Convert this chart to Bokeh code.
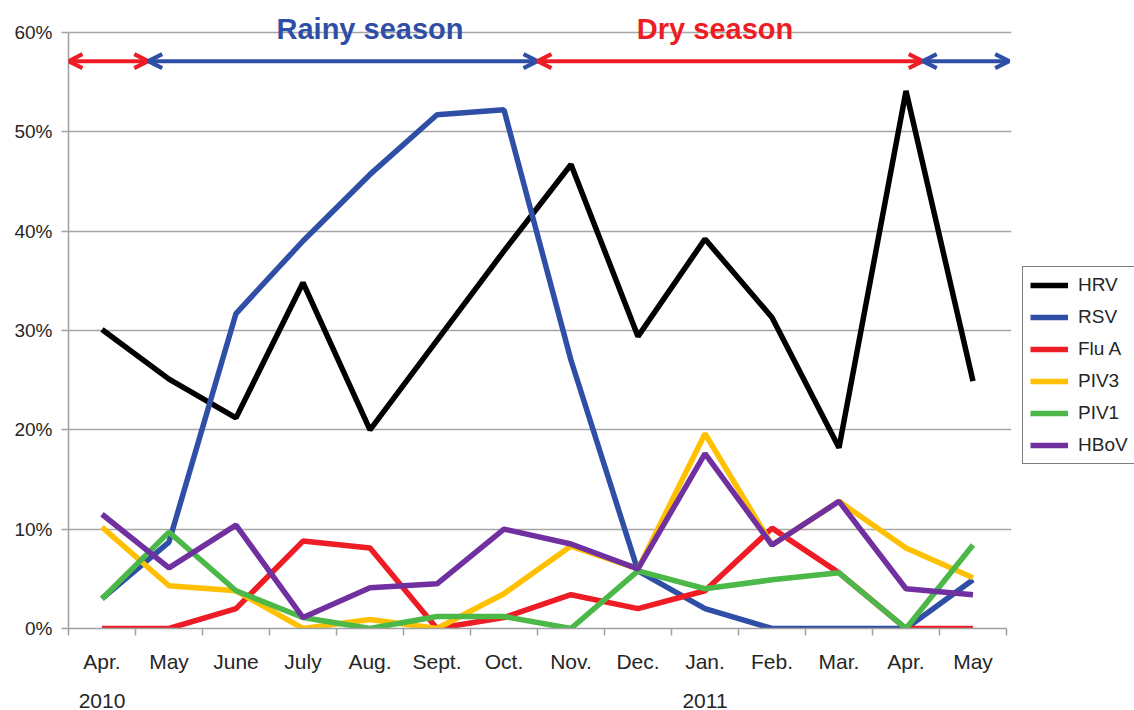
from bokeh.plotting import figure
from bokeh.models import (Range1d, FixedTicker, PrintfTickFormatter, Legend, LegendItem,
                          Label, Arrow, OpenHead, LinearAxis)
from bokeh.embed import file_html
from bokeh.resources import INLINE

# ---- data ----
months = ["Apr.", "May", "June", "July", "Aug.", "Sept.", "Oct.", "Nov.", "Dec.",
          "Jan.", "Feb.", "Mar.", "Apr.", "May"]
years = ["2010", "2011"]
year_month_index = [0, 9]

hrv  = [30.1, 25.1, 21.2, 34.8, 20.0, 29.0, 38.0, 46.7, 29.4, 39.2, 31.3, 18.2, 54.1, 24.9]
rsv  = [3.0, 8.7, 31.7, 39.0, 45.7, 51.7, 52.2, 27.0, 5.8, 2.0, 0.0, 0.0, 0.0, 4.9]
flua = [0.0, 0.0, 2.0, 8.8, 8.1, 0.0, 1.1, 3.4, 2.0, 3.8, 10.1, 5.6, 0.0, 0.0]
piv3 = [10.2, 4.3, 3.8, 0.0, 0.9, 0.0, 3.5, 8.3, 6.0, 19.6, 8.4, 12.8, 8.1, 5.1]
piv1 = [3.0, 9.7, 3.8, 1.1, 0.0, 1.2, 1.2, 0.0, 5.8, 4.0, 4.9, 5.6, 0.0, 8.4]
hbov = [11.5, 6.1, 10.4, 1.1, 4.1, 4.5, 10.0, 8.5, 6.0, 17.6, 8.4, 12.8, 4.0, 3.4]

series_names = ["HRV", "RSV", "Flu A", "PIV3", "PIV1", "HBoV"]
series_values = [hrv, rsv, flua, piv3, piv1, hbov]
series_colors = ["#000000", "#2F4FA6", "#EE1C25", "#FFC000", "#4CB848", "#7030A0"]

# season spans (in month-slot units along the x axis)
seasons = [("", 0.0, 1.19, "#EE1C25"),
           ("Rainy season", 1.19, 7.0, "#2F4FA6"),
           ("Dry season", 7.0, 12.75, "#EE1C25"),
           ("", 12.75, 14.04, "#2F4FA6")]
season_label_x = {"Rainy season": 4.5, "Dry season": 9.65}

FONT = "Liberation Sans"
TXT = "#262626"
GRAY = "#A0A0A0"

n = len(months)
xs = [i + 0.5 for i in range(n)]

p = figure(frame_width=943, frame_height=621, output_backend="svg", toolbar_location=None,
           x_range=Range1d(0, n * 943 / 938), y_range=Range1d(0, 62.5),
           min_border_left=68, min_border_right=115, min_border_top=7, min_border_bottom=76)
p.outline_line_color = None
p.background_fill_color = "white"
p.border_fill_color = "white"

# axes
xa = p.xaxis[0]
xa.ticker = FixedTicker(ticks=xs, minor_ticks=list(range(n + 1)))
xa.major_label_overrides = {x: m for x, m in zip(xs, months)}
xa.bounds = (0, n)
xa.major_tick_out = 0
xa.major_tick_in = 0
xa.minor_tick_out = 7
xa.minor_tick_in = 0
xa.minor_tick_line_color = GRAY
xa.minor_tick_line_width = 1.5
xa.axis_line_color = GRAY
xa.axis_line_width = 1.5
xa.major_label_text_font = FONT
xa.major_label_text_font_size = "21px"
xa.major_label_text_color = TXT
xa.major_label_standoff = 14

# second axis below carrying the year labels
year_axis = LinearAxis(ticker=FixedTicker(ticks=[xs[i] for i in year_month_index]),
                       major_label_overrides={xs[i]: y for i, y in zip(year_month_index, years)},
                       axis_line_color=None, major_tick_line_color=None,
                       minor_tick_line_color=None, major_tick_out=0, major_tick_in=0,
                       major_label_text_font=FONT, major_label_text_font_size="21px",
                       major_label_text_color=TXT, major_label_standoff=18)
p.add_layout(year_axis, "below")

ya = p.yaxis[0]
ya.ticker = FixedTicker(ticks=[0, 10, 20, 30, 40, 50, 60])
ya.formatter = PrintfTickFormatter(format="%d%%")
ya.bounds = (0, 60)
ya.major_tick_out = 7
ya.major_tick_in = 0
ya.minor_tick_out = 0
ya.minor_tick_in = 0
ya.major_tick_line_color = GRAY
ya.major_tick_line_width = 1.5
ya.axis_line_color = GRAY
ya.axis_line_width = 1.5
ya.major_label_text_font = FONT
ya.major_label_text_font_size = "19px"
ya.major_label_text_color = TXT
ya.major_label_standoff = 9

p.xgrid.visible = False
p.ygrid.grid_line_color = "#A6A6A6"
p.ygrid.grid_line_width = 1.5

# lines
items = []
for name, vals, col in zip(series_names, series_values, series_colors):
    r = p.line(xs, vals, line_color=col, line_width=5.5)
    items.append(LegendItem(label=name, renderers=[r]))

legend = Legend(items=items, location=(11, 164), margin=0, padding=7,
                spacing=10, glyph_width=38, glyph_height=22, label_height=22,
                label_standoff=10, label_text_font=FONT, label_text_font_size="19px",
                label_text_color=TXT, border_line_color="#000000", border_line_width=1,
                background_fill_color="white", background_fill_alpha=1)
p.add_layout(legend, "right")

# season arrows and labels
for name, x0, x1, col in seasons:
    p.add_layout(Arrow(x_start=x0, x_end=x1, y_start=57.1, y_end=57.1,
                       line_color=col, line_width=4,
                       start=OpenHead(size=14, line_color=col, line_width=4),
                       end=OpenHead(size=14, line_color=col, line_width=4)))
    if name:
        p.add_layout(Label(x=season_label_x[name], y=60.35, text=name,
                           text_align="center", text_baseline="middle",
                           text_font=FONT, text_font_style="bold",
                           text_font_size="29px", text_color=col))

open("out.html", "w").write(file_html(p, INLINE))
